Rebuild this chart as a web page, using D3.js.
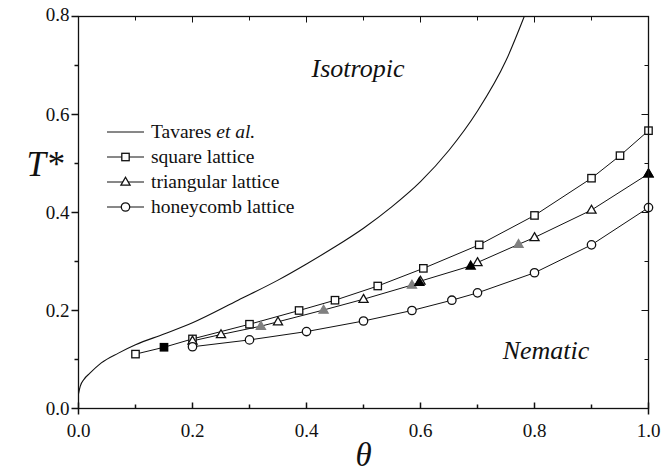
<!DOCTYPE html>
<html><head><meta charset="utf-8">
<script src="https://cdn.jsdelivr.net/npm/d3@7/dist/d3.min.js"></script>
<style>body{margin:0;background:#fff}svg{display:block}</style>
</head><body><svg id="c" width="663" height="475"></svg>
<script>
// Data
const xTicks = [0.0, 0.2, 0.4, 0.6, 0.8, 1.0];
const yTicks = [0.0, 0.2, 0.4, 0.6, 0.8];
const tavares = [[0,0.03],[0.003,0.045],[0.01,0.06],[0.02,0.072],[0.04,0.093],[0.07,0.113],[0.1,0.13],[0.15,0.152],[0.2,0.175],[0.28,0.221],[0.35,0.262],[0.4,0.295],[0.45,0.33],[0.5,0.368],[0.55,0.412],[0.6,0.463],[0.65,0.527],[0.7,0.607],[0.75,0.71],[0.782,0.8]];
const square = [[0.1,0.111],[0.2,0.142],[0.3,0.172],[0.387,0.2],[0.45,0.221],[0.525,0.25],[0.605,0.286],[0.703,0.334],[0.8,0.394],[0.9,0.47],[0.95,0.516],[1.0,0.567]];
const squareFilled = [[0.15,0.125]];
const triangular = [[0.2,0.138],[0.25,0.151],[0.35,0.177],[0.5,0.223],[0.6,0.26],[0.7,0.298],[0.8,0.349],[0.9,0.405],[1.0,0.479]];
const triBlack = [[0.598,0.2575],[0.688,0.291],[1.0,0.479]];
const triGrey = [[0.32,0.168],[0.43,0.201],[0.585,0.252],[0.772,0.335]];
const honeycomb = [[0.2,0.126],[0.3,0.14],[0.4,0.157],[0.5,0.1786],[0.585,0.2],[0.655,0.221],[0.7,0.236],[0.8,0.277],[0.9,0.334],[1.0,0.41]];
const legendLabels = ["Tavares", "square lattice", "triangular lattice", "honeycomb lattice"];

const FONT = '"Liberation Serif"';
const svg = d3.select("#c");
const x = d3.scaleLinear().domain([0,1]).range([78.5,648.5]);
const y = d3.scaleLinear().domain([0,0.8]).range([408.5,16.5]);
const ink = "#111";
function txt(g){ return g.append("text").style("font-family",FONT).attr("fill",ink); }

// Curves
const plot = svg.append("g");
plot.append("path").datum(tavares).attr("d", d3.line().x(d=>x(d[0])).y(d=>y(d[1])).curve(d3.curveMonotoneX)).attr("fill","none").attr("stroke",ink).attr("stroke-width",1.1);
const lineL = d3.line().x(d=>x(d[0])).y(d=>y(d[1]));
const sqLine = [...square, ...squareFilled].sort((a,b)=>a[0]-b[0]);
const trLine = [...triangular, ...triBlack.filter(d=>d[0]<1), ...triGrey].sort((a,b)=>a[0]-b[0]);
[sqLine, trLine, honeycomb].forEach(s=>{
  plot.append("path").datum(s).attr("d", lineL).attr("fill","none").attr("stroke",ink).attr("stroke-width",1);
});

function sqMark(g, cx, cy, fill){ g.append("rect").attr("x",cx-3.7).attr("y",cy-3.7).attr("width",7.4).attr("height",7.4).attr("fill",fill).attr("stroke",fill==="#fff"?ink:fill).attr("stroke-width",1.3); }
function triMark(g, cx, cy, fill){ const s=4.8; g.append("path").attr("d",`M${cx},${cy-s}L${cx+s*0.95},${cy+s*0.65}L${cx-s*0.95},${cy+s*0.65}Z`).attr("fill",fill).attr("stroke",fill==="#fff"?ink:fill).attr("stroke-width",1.3); }
function ciMark(g, cx, cy, fill){ g.append("circle").attr("cx",cx).attr("cy",cy).attr("r",4.2).attr("fill",fill).attr("stroke",ink).attr("stroke-width",1.3); }

const mk = svg.append("g");
square.forEach(d=>sqMark(mk, x(d[0]), y(d[1]), "#fff"));
squareFilled.forEach(d=>sqMark(mk, x(d[0]), y(d[1]), "#000"));
triangular.forEach(d=>triMark(mk, x(d[0]), y(d[1]), "#fff"));
triGrey.forEach(d=>triMark(mk, x(d[0]), y(d[1]), "#808080"));
triBlack.forEach(d=>triMark(mk, x(d[0]), y(d[1]), "#000"));
honeycomb.forEach(d=>ciMark(mk, x(d[0]), y(d[1]), "#fff"));

// Frame & axes
const ax = svg.append("g").attr("stroke",ink).attr("stroke-width",1.5).attr("fill","none");
ax.append("rect").attr("x",x(0)).attr("y",y(0.8)).attr("width",x(1)-x(0)).attr("height",y(0)-y(0.8)).attr("stroke-width",1.3);
const xMinor = d3.range(0,1.0001,0.1);
const yMinor = d3.range(0,0.8001,0.1);
xMinor.forEach((v,i)=>{
  const major = i%2===0;
  const L = major?6:4;
  ax.append("line").attr("x1",x(v)).attr("x2",x(v)).attr("y1",y(0)).attr("y2",y(0)-L);
  ax.append("line").attr("x1",x(v)).attr("x2",x(v)).attr("y1",y(0.8)).attr("y2",y(0.8)+L).attr("stroke-width",1);
});
ax.append("line").attr("x1",x(0)).attr("x2",x(0)).attr("y1",y(0)).attr("y2",y(0)+6);
ax.append("line").attr("x1",x(1)).attr("x2",x(1)).attr("y1",y(0)).attr("y2",y(0)+6);
yMinor.forEach((v,i)=>{
  const major = i%2===0;
  const L = major?7:4;
  ax.append("line").attr("x1",x(0)).attr("x2",x(0)-L).attr("y1",y(v)).attr("y2",y(v));
  ax.append("line").attr("x1",x(1)).attr("x2",x(1)-L).attr("y1",y(v)).attr("y2",y(v)).attr("stroke-width",1);
});
const fmt = d3.format(".1f");
xTicks.forEach(d=>txt(svg).attr("x",x(d)).attr("y",y(0)+28).attr("text-anchor","middle").attr("font-size",19).text(fmt(d)));
yTicks.forEach(d=>txt(svg).attr("x",x(0)-9).attr("y",d===0.8?y(d)+4:y(d)+6).attr("text-anchor","end").attr("font-size",19).text(fmt(d)));

// Axis titles
txt(svg).attr("x",x(0.5)).attr("y",466).attr("text-anchor","middle").attr("font-size",33).attr("font-style","italic").text("θ");
txt(svg).attr("x",45).attr("y",y(0.5)+12).attr("text-anchor","middle").attr("font-size",35).attr("font-style","italic").text("T*");

// Region labels
txt(svg).attr("x",358).attr("y",77).attr("text-anchor","middle").attr("font-size",26).attr("font-style","italic").text("Isotropic");
txt(svg).attr("x",546).attr("y",359).attr("text-anchor","middle").attr("font-size",26).attr("font-style","italic").text("Nematic");

// Legend
const lg = svg.append("g");
const rows = [132, 157, 182, 207];
const markFns = [null, sqMark, triMark, ciMark];
rows.forEach((ry,i)=>{
  lg.append("line").attr("x1",107).attr("x2",144).attr("y1",ry).attr("y2",ry).attr("stroke",ink).attr("stroke-width",1);
  if(markFns[i]) markFns[i](lg, 125.5, ry, "#fff");
  const t = txt(lg).attr("x",151).attr("y",ry+6).attr("font-size",19.5);
  t.append("tspan").text(legendLabels[i]);
  if(i===0) t.append("tspan").attr("font-style","italic").text(" et al.");
});
</script></body></html>
